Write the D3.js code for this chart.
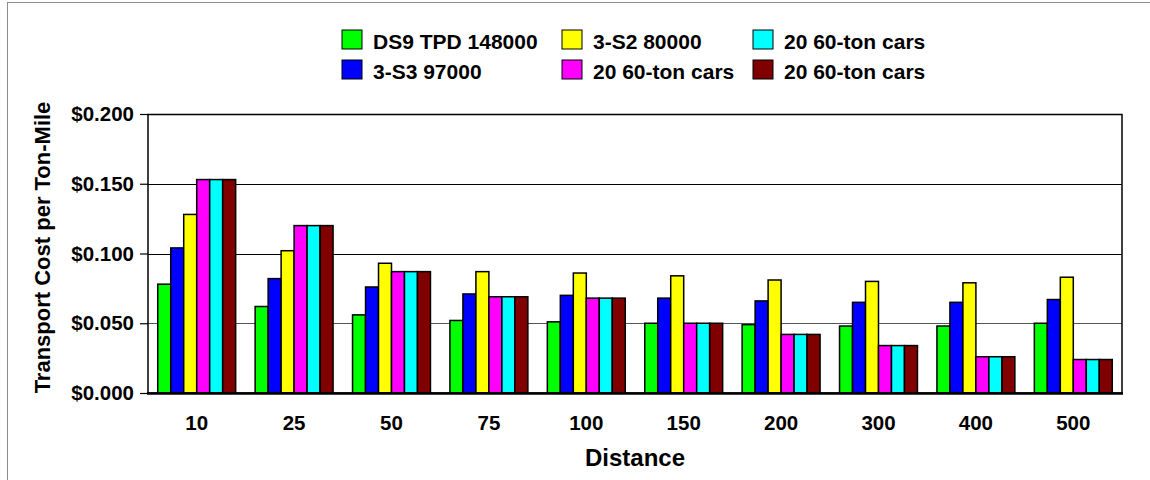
<!DOCTYPE html>
<html>
<head>
<meta charset="utf-8">
<script src="https://cdn.jsdelivr.net/npm/d3@7"></script>
<style>
  html, body { margin: 0; padding: 0; background: #fff; }
  svg { display: block; }
  text { font-family: "Liberation Sans", Arial, sans-serif; font-weight: bold; fill: #000; }
</style>
</head>
<body>
<svg id="chart" width="1150" height="480"></svg>
<script>
// ---- data ----
const distances = ["10", "25", "50", "75", "100", "150", "200", "300", "400", "500"];
const seriesNames = ["DS9 TPD 148000", "3-S3 97000", "3-S2 80000", "20 60-ton cars", "20 60-ton cars", "20 60-ton cars"];
const seriesColors = ["#00ff00", "#0000ff", "#ffff00", "#ff00ff", "#00ffff", "#800000"];
const ds9 = [0.078, 0.062, 0.056, 0.052, 0.051, 0.050, 0.049, 0.048, 0.048, 0.050];
const s3 = [0.104, 0.082, 0.076, 0.071, 0.070, 0.068, 0.066, 0.065, 0.065, 0.067];
const s2 = [0.128, 0.102, 0.093, 0.087, 0.086, 0.084, 0.081, 0.080, 0.079, 0.083];
const rail1 = [0.153, 0.120, 0.087, 0.069, 0.068, 0.050, 0.042, 0.034, 0.026, 0.024];
const rail2 = [0.153, 0.120, 0.087, 0.069, 0.068, 0.050, 0.042, 0.034, 0.026, 0.024];
const rail3 = [0.153, 0.120, 0.087, 0.069, 0.068, 0.050, 0.042, 0.034, 0.026, 0.024];
const yTicks = [0, 0.05, 0.1, 0.15, 0.2];
const yTitle = "Transport Cost per Ton-Mile";
const xTitle = "Distance";

const seriesValues = [ds9, s3, s2, rail1, rail2, rail3];

// ---- layout ----
const svg = d3.select("#chart");
const L = 148, T = 114, R = 1122, B = 393;

// outer border
svg.append("rect")
  .attr("x", 7.5).attr("y", 2.5).attr("width", 1300).attr("height", 1000)
  .attr("fill", "none").attr("stroke", "#8c8c8c").attr("stroke-width", 1);

const x0 = d3.scaleBand().domain(distances).range([L, R]).paddingInner(0.2).paddingOuter(0.1);
const x1 = d3.scaleBand().domain(d3.range(seriesValues.length)).range([0, x0.bandwidth()]);
const y = d3.scaleLinear().domain([0, 0.2]).range([B, T]);

// gridlines
svg.append("g").selectAll("line").data(yTicks.filter(t => t > 0)).join("line")
  .attr("x1", L).attr("x2", R)
  .attr("y1", d => Math.round(y(d)) + 0.5).attr("y2", d => Math.round(y(d)) + 0.5)
  .attr("stroke", (d, i) => i === 0 ? "#555" : "#000").attr("stroke-width", 1.2);

// y axis
const yAxis = d3.axisLeft(y).tickValues(yTicks).tickSize(8).tickPadding(6)
  .tickFormat(d => "$" + d3.format(".3f")(d));
const gy = svg.append("g").attr("transform", `translate(${L},0)`).call(yAxis);
gy.select(".domain").remove();
gy.selectAll("line").attr("stroke", "#000").attr("stroke-width", 1.2);
gy.selectAll("text").attr("font-size", 20.5).attr("font-family", '"Liberation Sans", Arial, sans-serif').attr("font-weight", "bold").attr("fill", "#000");

// bars
const groups = svg.append("g").selectAll("g").data(distances).join("g")
  .attr("transform", d => `translate(${x0(d)},0)`);
groups.selectAll("rect")
  .data((d, gi) => seriesValues.map((vals, si) => ({ si, v: vals[gi] })))
  .join("rect")
  .attr("x", d => x1(d.si))
  .attr("y", d => y(d.v))
  .attr("width", x1.bandwidth())
  .attr("height", d => y(0) - y(d.v))
  .attr("fill", d => seriesColors[d.si])
  .attr("stroke", "#000").attr("stroke-width", 1.5);

// plot frame
svg.append("rect").attr("x", L).attr("y", T + 0.5).attr("width", R - L).attr("height", B - T - 0.5)
  .attr("fill", "none").attr("stroke", "#000").attr("stroke-width", 1.5);
svg.append("line").attr("x1", L - 1).attr("x2", R + 1).attr("y1", B + 0.5).attr("y2", B + 0.5)
  .attr("stroke", "#000").attr("stroke-width", 2.5);

// x labels
const xAxis = d3.axisBottom(x0).tickSize(0).tickPadding(22);
const gx = svg.append("g").attr("transform", `translate(0,${B})`).call(xAxis);
gx.select(".domain").remove();
gx.selectAll("text").attr("font-size", 20.5).attr("font-family", '"Liberation Sans", Arial, sans-serif').attr("font-weight", "bold").attr("fill", "#000");

// axis titles
svg.append("text").attr("x", (L + R) / 2).attr("y", 466).attr("text-anchor", "middle")
  .attr("font-size", 24).text(xTitle);
svg.append("text").attr("transform", `translate(50,${(T + B) / 2 - 6}) rotate(-90)`)
  .attr("text-anchor", "middle").attr("font-size", 22).text(yTitle);

// legend (column-major, 2 rows)
const legCols = [342, 562, 753];
const legRows = [49, 79];
const leg = svg.append("g").selectAll("g").data(seriesNames).join("g")
  .attr("transform", (d, i) => `translate(${legCols[Math.floor(i / 2)]},${legRows[i % 2]})`);
leg.append("rect").attr("x", 0).attr("y", -19).attr("width", 20).attr("height", 19)
  .attr("fill", (d, i) => seriesColors[i]).attr("stroke", "#000").attr("stroke-width", 1);
leg.append("text").attr("x", 31).attr("y", 0).attr("font-size", 21).text(d => d);
</script>
</body>
</html>
